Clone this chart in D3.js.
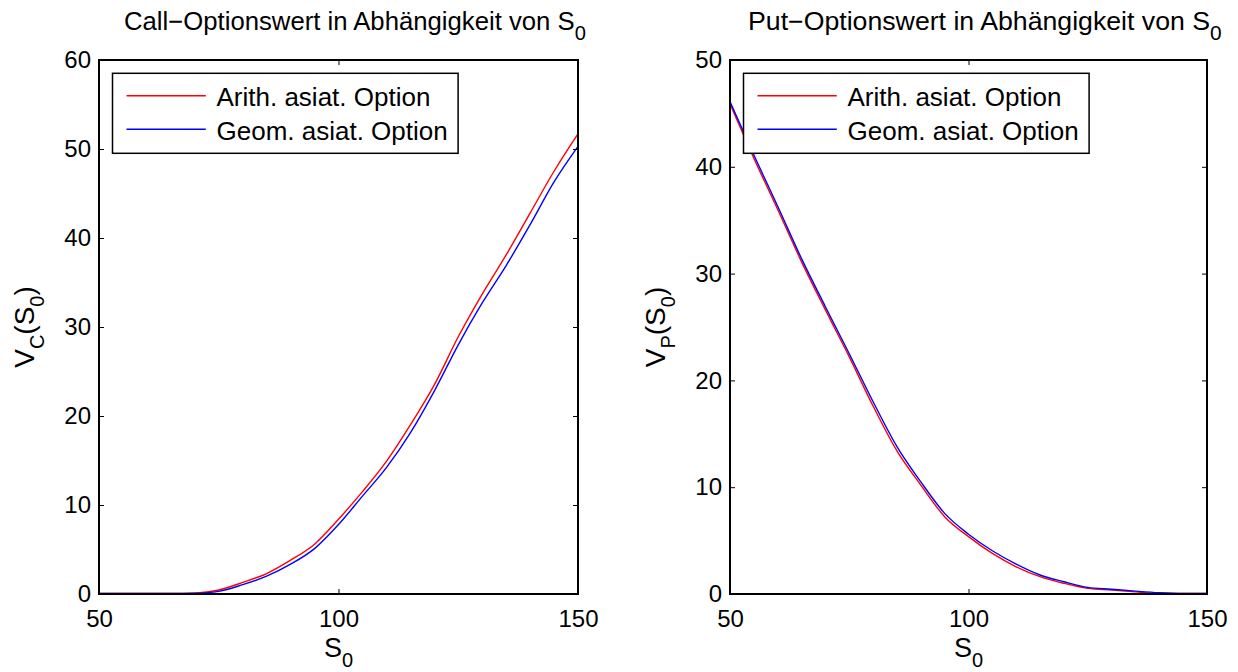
<!DOCTYPE html>
<html><head><meta charset="utf-8">
<script src="https://cdn.jsdelivr.net/npm/d3@7"></script>
<style>
body{margin:0;background:#fff;}
svg{display:block;font-family:"Liberation Sans",Arial,sans-serif;}
</style></head>
<body>
<svg id="c" width="1238" height="672"></svg>
<script>
const S0 = [50,55,60,65,70,75,80,85,90,95,100,105,110,115,120,125,130,135,140,145,150];
const callArith = [0.05,0.05,0.05,0.05,0.1,0.45,1.3,2.3,3.8,5.6,8.4,11.5,14.9,19.0,23.5,28.9,33.7,38.1,42.8,47.5,51.7];
const callGeom  = [0.05,0.05,0.05,0.05,0.08,0.3,1.05,2.0,3.35,5.1,7.8,11.0,14.2,18.1,22.8,28.0,32.7,36.9,41.5,46.3,50.3];
const putArith  = [45.9,40.8,36.0,31.1,26.6,22.2,17.6,13.4,10.2,7.24,5.37,3.8,2.55,1.62,1.0,0.53,0.37,0.2,0.05,0.05,0.05];
const putGeom   = [46.1,41.1,36.3,31.4,26.9,22.5,18.0,13.8,10.5,7.55,5.6,4.05,2.8,1.78,1.15,0.62,0.45,0.27,0.12,0.05,0.05];
const xTicks = [50,100,150];
const callYTicks = [0,10,20,30,40,50,60];
const putYTicks = [0,10,20,30,40,50];
const legendLabels = ["Arith. asiat. Option","Geom. asiat. Option"];
const colors = ["#ff0000","#0000ff"];

const svg = d3.select("#c");

function panel(cfg){
  const {x0,x1,y0,y1,ymax,yTicks,series,title,titleX,titleW,ySub} = cfg;
  const x = d3.scaleLinear().domain([50,150]).range([x0,x1]);
  const y = d3.scaleLinear().domain([0,ymax]).range([y1,y0]);
  const g = svg.append("g");
  const line = d3.line().x((d,i)=>x(S0[i])).y(d=>y(d)).curve(d3.curveMonotoneX);
  series.forEach((s,k)=>{
    g.append("path").attr("d",line(s)).attr("fill","none")
      .attr("stroke",colors[k]).attr("stroke-width",1.4);
  });
  const fs = 24;
  const ax = (gen, tr, labels) => {
    const a = g.append("g").attr("transform",tr).call(gen);
    a.select(".domain").remove();
    a.selectAll(".tick line").attr("stroke","#000").attr("stroke-width",1);
    a.selectAll("text").attr("font-size",fs).attr("fill","#000")
      .attr("font-family","Liberation Sans, Arial, sans-serif");
    if(!labels) a.selectAll("text").remove();
    return a;
  };
  ax(d3.axisBottom(x).tickValues(xTicks).tickSize(-5).tickPadding(16).tickFormat(d3.format("d")), `translate(0,${y1})`, true);
  ax(d3.axisTop(x).tickValues(xTicks).tickSize(-5), `translate(0,${y0})`, false);
  ax(d3.axisLeft(y).tickValues(yTicks).tickSize(-5).tickPadding(8).tickFormat(d3.format("d")), `translate(${x0},0)`, true);
  ax(d3.axisRight(y).tickValues(yTicks).tickSize(-5), `translate(${x1},0)`, false);
  g.append("rect").attr("x",x0).attr("y",y0).attr("width",x1-x0).attr("height",y1-y0)
    .attr("fill","none").attr("stroke","#000").attr("stroke-width",2);
  const lx = x0+13.5, ly = 73.3;
  g.append("rect").attr("x",lx).attr("y",ly).attr("width",345.6).attr("height",80)
    .attr("fill","#fff").attr("stroke","#000").attr("stroke-width",1.5);
  legendLabels.forEach((t,k)=>{
    const yy = 95.7 + k*33.6;
    g.append("line").attr("x1",lx+14).attr("x2",lx+93.3).attr("y1",yy).attr("y2",yy)
      .attr("stroke",colors[k]).attr("stroke-width",1.4);
    g.append("text").attr("x",lx+104).attr("y",yy+10.5).attr("font-size",26).text(t);
  });
  const xl = g.append("text").attr("x",(x0+x1)/2).attr("y",657).attr("text-anchor","middle").attr("font-size",27);
  xl.append("tspan").text("S");
  xl.append("tspan").attr("font-size",20).attr("dy",10).text("0");
  const yl = g.append("text").attr("transform",`translate(${x0-65},${(y0+y1)/2}) rotate(-90)`)
    .attr("text-anchor","middle").attr("font-size",28);
  yl.append("tspan").text("V");
  yl.append("tspan").attr("font-size",20).attr("dy",10).text(ySub);
  yl.append("tspan").attr("dy",-10).text("(S");
  yl.append("tspan").attr("font-size",20).attr("dy",10).text("0");
  yl.append("tspan").attr("dy",-10).text(")");
  const tg = g.append("g");
  const tt = tg.append("text").attr("x",0).attr("y",0).attr("font-size",25.5);
  tt.append("tspan").text(title);
  tt.append("tspan").attr("font-size",20).attr("dy",10).text("0");
  const w = tt.node().getComputedTextLength();
  tg.attr("transform",`translate(${titleX},30) scale(${titleW/w},1)`);
}

panel({x0:99,x1:578,y0:60,y1:594,ymax:60,yTicks:callYTicks,series:[callArith,callGeom],
  title:"Call\u2212Optionswert in Abhängigkeit von S",titleX:124,titleW:462,ySub:"C"});
panel({x0:730,x1:1207,y0:60,y1:594,ymax:50,yTicks:putYTicks,series:[putArith,putGeom],
  title:"Put\u2212Optionswert in Abhängigkeit von S",titleX:748,titleW:474,ySub:"P"});
</script>
</body></html>
